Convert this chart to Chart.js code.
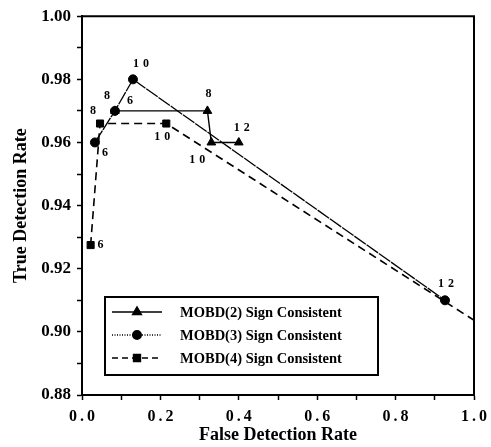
<!DOCTYPE html>
<html>
<head>
<meta charset="utf-8">
<script src="https://cdn.jsdelivr.net/npm/chart.js@4.4.0/dist/chart.umd.min.js"></script>
<style>
  html, body { margin: 0; padding: 0; background: #fff; }
</style>
</head>
<body>
<canvas id="roc" width="491" height="447"></canvas>
<script>
// False / true detection rates
const mobd2X = [0.084, 0.32, 0.33, 0.40];
const mobd2Y = [0.970, 0.970, 0.960, 0.960];
const mobd3X = [0.033, 0.084, 0.13, 0.926];
const mobd3Y = [0.960, 0.970, 0.980, 0.910];
const mobd4X = [0.022, 0.046, 0.215, 1.04];
const mobd4Y = [0.9275, 0.966, 0.966, 0.9005];

// numbers printed beside each point
const mobd2Notes = ['6', '8', '10', '12'];
const mobd3Notes = ['6', '8', '10', '12'];
const mobd4Notes = ['6', '8', '10', '12'];

const seriesNames = ['MOBD(2) Sign Consistent', 'MOBD(3) Sign Consistent', 'MOBD(4) Sign Consistent'];

// where each note sits relative to its point (px)
const mobd2NoteShift = [[15, -10], [1, -17], [-14, 17], [3, -15]];
const mobd3NoteShift = [[10, 10], [-8, -15], [8, -15], [1, -16]];
const mobd4NoteShift = [[10, 0], [-7, -13], [-4, 13], [0, 0]];

const SERIF = "'Liberation Serif', 'Times New Roman', serif";

function toPoints(xs, ys) {
  return xs.map((x, i) => ({ x: x, y: ys[i] }));
}

// frame, point notes and the boxed legend
const notesPlugin = {
  id: 'notesPlugin',
  afterDatasetsDraw(chart) {
    // x tick labels are drawn after this (ticks.z = 1), spaced like the original
    chart.ctx.letterSpacing = '3px';
  },
  afterDraw(chart) {
    const ctx = chart.ctx;
    const a = chart.chartArea;
    const xs = chart.scales.x, ys = chart.scales.y;
    ctx.letterSpacing = '0px';

    ctx.save();
    ctx.strokeStyle = '#000';
    ctx.lineWidth = 2;
    ctx.beginPath();
    ctx.moveTo(a.left, a.top);
    ctx.lineTo(a.right, a.top);
    ctx.lineTo(a.right, a.bottom);
    ctx.stroke();

    // point notes
    const groups = [
      [mobd2X, mobd2Y, mobd2Notes, mobd2NoteShift],
      [mobd3X, mobd3Y, mobd3Notes, mobd3NoteShift],
      [mobd4X, mobd4Y, mobd4Notes, mobd4NoteShift]
    ];
    ctx.fillStyle = '#000';
    ctx.font = 'bold 12px ' + SERIF;
    ctx.textAlign = 'center';
    ctx.textBaseline = 'middle';
    ctx.letterSpacing = '4px';
    groups.forEach(g => {
      g[0].forEach((xv, i) => {
        const px = xs.getPixelForValue(xv);
        const py = ys.getPixelForValue(g[1][i]);
        if (px < a.left || px > a.right) return;
        ctx.fillText(g[2][i], px + g[3][i][0] + 2, py + g[3][i][1]);
      });
    });
    ctx.letterSpacing = '0px';

    // legend box
    const bx = a.left + 23, by = a.bottom - 98, bw = 273, bh = 78;
    ctx.lineWidth = 2;
    ctx.strokeRect(bx, by, bw, bh);
    const legendDash = [[], [1, 1.5], [6, 4]];
    chart.data.datasets.forEach((ds, i) => {
      const ry = by + 15 + i * 23;
      ctx.save();
      ctx.lineWidth = 1.3;
      ctx.setLineDash(legendDash[i]);
      ctx.beginPath();
      ctx.moveTo(bx + 7, ry);
      ctx.lineTo(bx + 57, ry);
      ctx.stroke();
      ctx.restore();
      ctx.fillStyle = '#000';
      Chart.helpers.drawPoint(ctx, {
        pointStyle: ds.pointStyle, radius: ds.pointRadius - 0.5, borderWidth: 1, rotation: 0
      }, bx + 32, ry);
      ctx.fill();
      ctx.font = 'bold 14.5px ' + SERIF;
      ctx.textAlign = 'left';
      ctx.textBaseline = 'middle';
      ctx.fillText(seriesNames[i], bx + 75, ry + 1);
    });
    ctx.restore();
  }
};

const axisFont = { family: SERIF, weight: 'bold', size: 17 };

new Chart(document.getElementById('roc'), {
  type: 'scatter',
  data: {
    datasets: [
      {
        label: seriesNames[0],
        data: toPoints(mobd2X, mobd2Y),
        showLine: true,
        borderColor: '#000',
        backgroundColor: '#000',
        borderWidth: 1.4,
        pointStyle: 'triangle',
        pointRadius: 5,
        pointBorderWidth: 1
      },
      {
        label: seriesNames[1],
        data: toPoints(mobd3X, mobd3Y),
        showLine: true,
        borderColor: '#000',
        backgroundColor: '#000',
        borderWidth: 1.3,
        borderDash: [14, 1],
        pointStyle: 'circle',
        pointRadius: 4.5,
        pointBorderWidth: 1
      },
      {
        label: seriesNames[2],
        data: toPoints(mobd4X, mobd4Y),
        showLine: true,
        borderColor: '#000',
        backgroundColor: '#000',
        borderWidth: 1.6,
        borderDash: [8, 5],
        pointStyle: 'rect',
        pointRadius: 5,
        pointBorderWidth: 1
      }
    ]
  },
  options: {
    responsive: false,
    animation: false,
    devicePixelRatio: 1,
    layout: { padding: { left: 0, right: 15, top: 11, bottom: 0 } },
    plugins: {
      legend: { display: false },
      tooltip: { enabled: false }
    },
    scales: {
      x: {
        type: 'linear',
        min: 0,
        max: 1,
        afterFit: s => { s.height = 52; },
        ticks: {
          stepSize: 0.1,
          z: 1,
          autoSkip: false,
          maxRotation: 0,
          padding: 7,
          labelOffset: 1.5,
          color: '#000',
          font: { family: SERIF, weight: 'bold', size: 16 },
          callback: v => (Math.round(v * 10) % 2 === 0 ? v.toFixed(1) : '')
        },
        grid: { drawOnChartArea: false, tickLength: 5, tickWidth: 1.5, tickColor: '#000' },
        border: { color: '#000', width: 2 },
        title: {
          display: true,
          text: 'False Detection Rate',
          color: '#000',
          font: { family: SERIF, weight: 'bold', size: 18 },
          padding: { top: 0, bottom: 1 }
        }
      },
      y: {
        type: 'linear',
        min: 0.88,
        max: 1.0,
        afterFit: s => { s.width = 82; },
        ticks: {
          stepSize: 0.01,
          autoSkip: false,
          padding: 6,
          color: '#000',
          font: axisFont,
          callback: v => (Math.round(v * 100) % 2 === 0 ? v.toFixed(2) : '')
        },
        grid: { drawOnChartArea: false, tickLength: 5, tickWidth: 1.5, tickColor: '#000' },
        border: { color: '#000', width: 2 },
        title: {
          display: true,
          text: 'True Detection Rate',
          color: '#000',
          font: { family: SERIF, weight: 'bold', size: 18 },
          padding: { top: 11, bottom: 0 }
        }
      }
    }
  },
  plugins: [notesPlugin]
});
</script>
</body>
</html>
